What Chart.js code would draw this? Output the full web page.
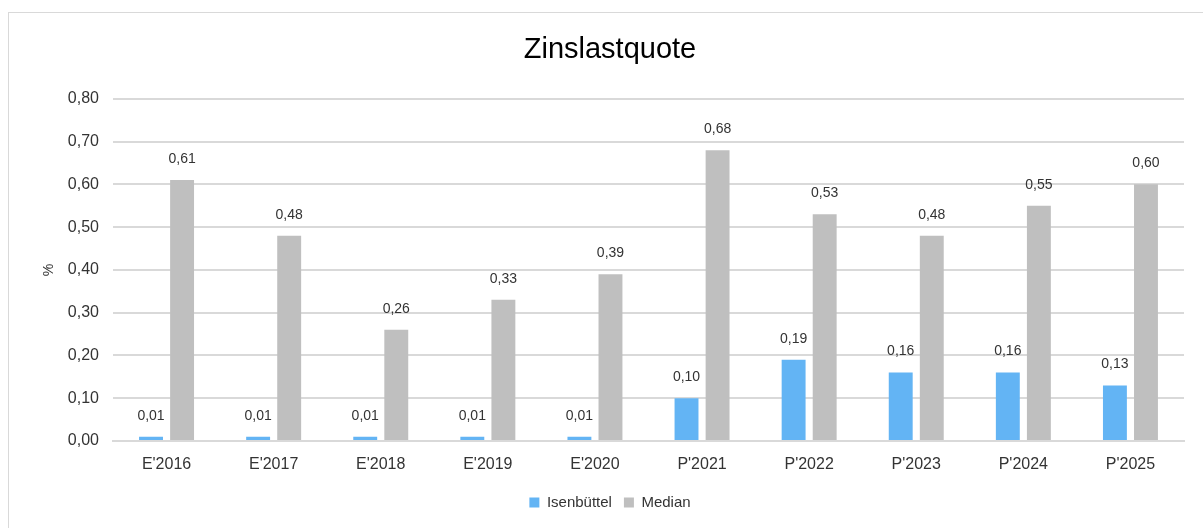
<!DOCTYPE html>
<html>
<head>
<meta charset="utf-8">
<script src="https://cdn.jsdelivr.net/npm/chart.js@4"></script>
<style>
    html, body { margin: 0; padding: 0; background: #fff; overflow: hidden; }
    #frame { position: absolute; left: 8px; top: 12px; width: 1300px; height: 700px; border: 1px solid #d9d9d9; }
    #wrap { position: absolute; left: 0; top: 0; width: 1203px; height: 528px; }
</style>
</head>
<body>
<div id="frame"></div>
<div id="wrap"><canvas id="chart" width="1203" height="528"></canvas></div>
<script>
// Categories and values
const years = ["E'2016", "E'2017", "E'2018", "E'2019", "E'2020", "P'2021", "P'2022", "P'2023", "P'2024", "P'2025"];
const isenbuettel = [0.01, 0.01, 0.01, 0.01, 0.01, 0.10, 0.19, 0.16, 0.16, 0.13];
const median = [0.61, 0.48, 0.26, 0.33, 0.39, 0.68, 0.53, 0.48, 0.55, 0.60];

const fmt = v => v.toFixed(2).replace('.', ',');
const fontFamily = '"Liberation Sans", Arial, sans-serif';

// Value labels above the bars
const valueLabels = {
    id: 'valueLabels',
    afterDatasetsDraw(chart) {
        const ctx = chart.ctx;
        ctx.save();
        ctx.font = '14px ' + fontFamily;
        ctx.fillStyle = '#333';
        ctx.textAlign = 'center';
        ctx.textBaseline = 'middle';
        chart.data.datasets.forEach((ds, i) => {
            chart.getDatasetMeta(i).data.forEach((bar, j) => {
                ctx.fillText(fmt(ds.data[j]), bar.x, bar.y - 21);
            });
        });
        ctx.restore();
    }
};

// Rotated "%" axis label
const axisLabel = {
    id: 'axisLabel',
    afterDraw(chart) {
        const ctx = chart.ctx;
        ctx.save();
        ctx.font = '14px ' + fontFamily;
        ctx.fillStyle = '#333';
        ctx.translate(49, 270);
        ctx.rotate(-Math.PI / 2);
        ctx.textAlign = 'center';
        ctx.textBaseline = 'middle';
        ctx.fillText('%', 0, 0);
        ctx.restore();
    }
};

const ctx = document.getElementById('chart').getContext('2d');
new Chart(ctx, {
    type: 'bar',
    data: {
        labels: years,
        datasets: [{
            label: 'Isenbüttel',
            data: isenbuettel,
            backgroundColor: '#63b4f4',
            categoryPercentage: 0.58,
            barPercentage: 0.77
        }, {
            label: 'Median',
            data: median,
            backgroundColor: '#bfbfbf',
            categoryPercentage: 0.58,
            barPercentage: 0.77
        }]
    },
    options: {
        responsive: false,
        animation: false,
        layout: {
            padding: { left: 36, right: 19, top: 0, bottom: 8 }
        },
        plugins: {
            title: {
                display: true,
                text: 'Zinslastquote',
                color: '#000',
                font: { family: fontFamily, size: 29, weight: 'normal' },
                padding: { top: 33, bottom: 31 }
            },
            legend: {
                position: 'bottom',
                labels: {
                    color: '#333',
                    font: { family: fontFamily, size: 15 },
                    boxWidth: 10,
                    boxHeight: 10,
                    padding: 12
                }
            },
            tooltip: { enabled: false }
        },
        scales: {
            x: {
                grid: { display: false },
                border: { color: '#d9d9d9', width: 2 },
                ticks: { color: '#333', font: { family: fontFamily, size: 16 }, padding: 6 },
                afterFit(scale) { scale.height = 42; }
            },
            y: {
                min: 0,
                max: 0.8,
                ticks: {
                    stepSize: 0.1,
                    color: '#333',
                    font: { family: fontFamily, size: 16 },
                    padding: 14,
                    callback: v => fmt(v)
                },
                grid: { color: '#d9d9d9', lineWidth: 2, drawTicks: false },
                border: { display: false },
                afterFit(scale) { scale.width = 77; }
            }
        }
    },
    plugins: [valueLabels, axisLabel]
});
</script>
</body>
</html>
